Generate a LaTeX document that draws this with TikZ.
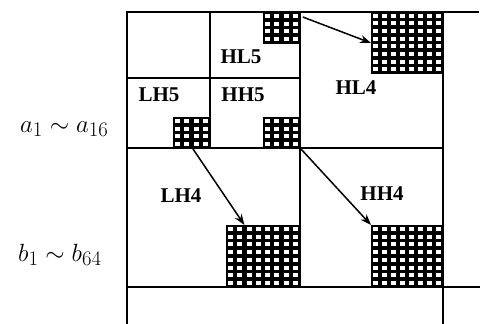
\documentclass[tikz,border=0pt]{standalone}
\usepackage{fontspec}
\setmainfont{Liberation Serif}
\usetikzlibrary{arrows.meta,calc}
\tikzset{
  grid/.style={line width=1.5pt, line cap=rect},
  blk/.style={fill=black, draw=black, line width=0.8pt, inner sep=0pt, anchor=north west},
  lab/.style={font=\fontsize{21}{24}\selectfont\bfseries, inner sep=0pt},
  mlab/.style={font=\fontsize{28}{32}\selectfont, inner sep=0pt, anchor=base west},
  arr/.style={line width=1.5pt, -{Stealth[length=11pt,width=8pt]}}
}
\newcommand\holes[6]{%
  \foreach \i in {1,...,#5}{\foreach \j in {1,...,#6}{%
    \fill[white] ({#1+(\i-0.5)*#3/#5-2.5},{#2+(\j-0.5)*#4/#6-2}) rectangle ++(5,4);}}}
\begin{document}
\begin{tikzpicture}[x=1pt,y=-1pt]
\useasboundingbox (0,0) rectangle (480,324);
% black pattern squares
\node[blk, minimum width=37pt, minimum height=31pt] (hl5sq) at (263,12) {};
\node[blk, minimum width=37pt, minimum height=31pt] (lh5sq) at (173,117) {};
\node[blk, minimum width=37pt, minimum height=31pt] (hh5sq) at (263,117) {};
\node[blk, minimum width=72pt, minimum height=61pt] (hl4sq) at (371,12) {};
\node[blk, minimum width=74pt, minimum height=62pt] (lh4sq) at (226,225) {};
\node[blk, minimum width=72pt, minimum height=62pt] (hh4sq) at (371,225) {};
\holes{263}{12}{37}{31}{4}{4}
\holes{173}{117}{37}{31}{4}{4}
\holes{263}{117}{37}{31}{4}{4}
\holes{371}{12}{72}{61}{8}{8}
\holes{226}{225}{74}{62}{8}{8}
\holes{371}{225}{72}{62}{8}{8}
% grid lines
\draw[grid] (127,12) -- (478,12);
\draw[grid] (127,12) -- (127,324);
\draw[grid] (210,12) -- (210,148);
\draw[grid] (300,12) -- (300,287);
\draw[grid] (443,12) -- (443,324);
\draw[grid] (127,78) -- (300,78);
\draw[grid] (127,148) -- (443,148);
\draw[grid] (127,287) -- (480,287);
% labels
\node[lab] (hl5) at (241,57) {HL5};
\node[lab] (lh5) at (159,95) {LH5};
\node[lab] (hh5) at (243,95) {HH5};
\node[lab] (hl4) at (356,88) {HL4};
\node[lab] (lh4) at (181,196) {LH4};
\node[lab] (hh4) at (382,194) {HH4};
\node[mlab] (alab) at (20,132) {$a_1\sim a_{16}$};
\node[mlab] (blab) at (18,261) {$b_1\sim b_{64}$};
% arrows
\coordinate (s1) at ($(hl5sq.north east)+(2,5)$);
\coordinate (e1) at ($(hl4sq.north west)+(0,31)$);
\draw[arr] (s1) -- (e1);
\draw[arr] ([xshift=1pt]lh5sq.south) -- ([xshift=-19pt]lh4sq.north);
\draw[arr] (hh5sq.south east) -- (hh4sq.north west);
\end{tikzpicture}
\end{document}
